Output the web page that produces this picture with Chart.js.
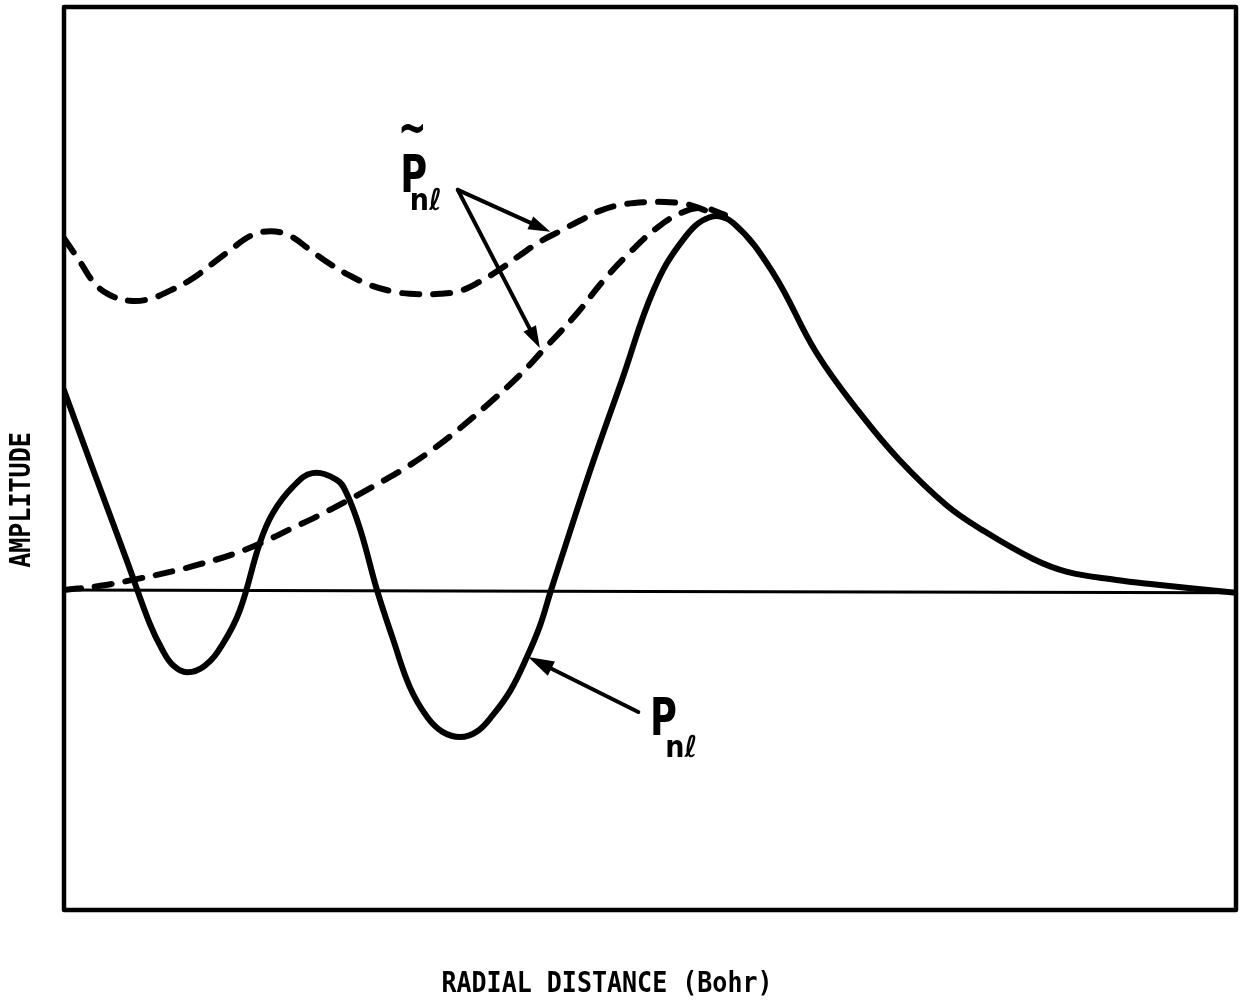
<!DOCTYPE html>
<html>
<head>
<meta charset="utf-8">
<script src="https://cdn.jsdelivr.net/npm/chart.js@4.4.1/dist/chart.umd.min.js"></script>
<style>
  html, body { margin: 0; padding: 0; background: #fff; }
  #wrap { width: 1243px; height: 1007px; }
</style>
</head>
<body>
<div id="wrap"><canvas id="chart" width="1243" height="1007"></canvas></div>
<script>
// Radial wavefunction P_nl (solid) and the two smoothed pseudo-wavefunctions (dashed)
const pnlR   = [0, 0.25, 0.54, 0.73, 0.84, 0.93, 1.05, 1.20, 1.35, 1.50, 1.67, 1.78, 1.95, 2.12, 2.33, 2.41, 2.53, 2.67,
                2.81, 2.95, 3.10, 3.23, 3.38, 3.52, 3.66, 3.81, 3.95, 4.06, 4.15, 4.23, 4.49, 4.76, 5.03, 5.28, 5.51,
                5.71, 6.05, 6.42, 6.79, 7.13, 7.53, 7.84, 8.27, 8.56, 8.98, 9.27, 10];
const pnlAmp = [0.344, 0.207, 0.050, -0.055, -0.101, -0.127, -0.139, -0.128, -0.092, -0.033, 0.082, 0.133, 0.178, 0.202,
                0.190, 0.168, 0.104, 0.002, -0.084, -0.164, -0.216, -0.241, -0.250, -0.241, -0.212, -0.170, -0.113,
                -0.060, -0.002, 0.048, 0.207, 0.361, 0.515, 0.601, 0.640, 0.630, 0.545, 0.408, 0.305, 0.224, 0.147,
                0.104, 0.055, 0.033, 0.019, 0.012, -0.003];

const upperR   = [0, 0.14, 0.26, 0.39, 0.56, 0.73, 0.90, 1.08, 1.25, 1.42, 1.59, 1.76, 1.93, 2.10, 2.27, 2.44, 2.61,
                  2.78, 2.95, 3.21, 3.38, 3.55, 3.72, 3.89, 4.06, 4.23, 4.40, 4.57, 4.74, 4.96, 5.13, 5.30, 5.47, 5.64];
const upperAmp = [0.604, 0.563, 0.527, 0.507, 0.497, 0.500, 0.514, 0.533, 0.558, 0.584, 0.608, 0.616, 0.608, 0.584,
                  0.560, 0.540, 0.524, 0.514, 0.509, 0.509, 0.514, 0.530, 0.551, 0.575, 0.598, 0.616, 0.634, 0.651,
                  0.661, 0.666, 0.666, 0.663, 0.652, 0.639];

const lowerR   = [0, 0.31, 0.63, 0.93, 1.16, 1.44, 1.70, 1.95, 2.18, 2.41, 2.70, 2.93, 3.17, 3.38, 3.63, 3.89, 4.09,
                  4.38, 4.60, 4.83, 5.06, 5.26, 5.45, 5.64];
const lowerAmp = [0.002, 0.009, 0.021, 0.034, 0.046, 0.063, 0.084, 0.108, 0.130, 0.154, 0.186, 0.213, 0.246, 0.279,
                  0.322, 0.370, 0.413, 0.476, 0.531, 0.580, 0.622, 0.647, 0.656, 0.644];

const baseR   = [0, 10];
const baseAmp = [0.002, -0.003];

const rMin = 0, rMax = 10;
const ampMin = -0.546, ampMax = 1.0;

const xTitle = 'RADIAL DISTANCE (Bohr)';
const yTitle = 'AMPLITUDE';

// Annotation arrows (tail -> tip) and handwritten labels, in data units
const arrowTails = [[3.36, 0.687], [3.36, 0.687], [4.90, -0.207]];
const arrowTips  = [[4.15, 0.615], [4.06, 0.416], [3.96, -0.113]];
const tildeLabel = { text: 'P', tilde: true, sub: 'n\u2113', at: [2.87, 0.683], subAt: [2.95, 0.652] };
const plainLabel = { text: 'P', tilde: false, sub: 'n\u2113', at: [5.00, -0.247], subAt: [5.13, -0.284] };

const pts = (xs, ys) => xs.map((x, i) => ({ x, y: ys[i] }));

function drawArrow(ctx, x1, y1, x2, y2, len, half) {
  const a = Math.atan2(y2 - y1, x2 - x1);
  ctx.beginPath();
  ctx.moveTo(x1, y1);
  ctx.lineTo(x2 - Math.cos(a) * len * 0.6, y2 - Math.sin(a) * len * 0.6);
  ctx.stroke();
  ctx.beginPath();
  ctx.moveTo(x2, y2);
  ctx.lineTo(x2 - Math.cos(a) * len - Math.sin(a) * half, y2 - Math.sin(a) * len + Math.cos(a) * half);
  ctx.lineTo(x2 - Math.cos(a) * len + Math.sin(a) * half, y2 - Math.sin(a) * len - Math.cos(a) * half);
  ctx.closePath();
  ctx.fill();
}

function drawLabel(ctx, xs, ys, lab) {
  const px = xs.getPixelForValue(lab.at[0]), py = ys.getPixelForValue(lab.at[1]);
  ctx.save();
  ctx.translate(px, py);
  ctx.scale(0.72, 1);
  ctx.font = 'bold 51px "DejaVu Sans"';
  ctx.fillText(lab.text, 0, 0);
  ctx.restore();
  if (lab.tilde) {
    ctx.save();
    ctx.translate(px + 12, py - 48);
    ctx.scale(0.9, 1.3);
    ctx.font = 'bold 38px "DejaVu Sans"';
    ctx.textAlign = 'center';
    ctx.fillText('~', 0, 0);
    ctx.restore();
  }
  const sx = xs.getPixelForValue(lab.subAt[0]), sy = ys.getPixelForValue(lab.subAt[1]);
  ctx.save();
  ctx.translate(sx, sy);
  ctx.scale(0.9, 1);
  ctx.font = 'bold 30px "DejaVu Sans"';
  ctx.fillText(lab.sub, 0, 0);
  ctx.restore();
}

const notes = {
  id: 'notes',
  afterDatasetsDraw(chart) {
    const { ctx, chartArea: a, scales: { x, y } } = chart;
    ctx.save();
    ctx.strokeStyle = '#000';
    ctx.fillStyle = '#000';
    ctx.lineJoin = 'round';
    ctx.lineCap = 'round';

    // plot frame
    ctx.lineWidth = 4.5;
    ctx.strokeRect(a.left, a.top, a.right - a.left, a.bottom - a.top);

    // arrows
    ctx.lineWidth = 4;
    arrowTails.forEach((t, i) => {
      const tip = arrowTips[i];
      const big = i === 2;
      drawArrow(ctx, x.getPixelForValue(t[0]), y.getPixelForValue(t[1]),
                x.getPixelForValue(tip[0]), y.getPixelForValue(tip[1]), big ? 26 : 22, big ? 8 : 7);
    });

    // curve labels
    drawLabel(ctx, x, y, tildeLabel);
    drawLabel(ctx, x, y, plainLabel);

    // axis titles
    ctx.font = 'bold 25px "DejaVu Sans Mono"';
    ctx.textAlign = 'center';
    ctx.textBaseline = 'middle';
    ctx.save();
    ctx.translate(607, 985);
    ctx.scale(1, 1.12);
    ctx.fillText(xTitle, 0, 0);
    ctx.restore();
    ctx.save();
    ctx.translate(23, 500);
    ctx.rotate(-Math.PI / 2);
    ctx.scale(1, 1.12);
    ctx.fillText(yTitle, 0, 0);
    ctx.restore();
    ctx.restore();
  }
};

const common = { pointRadius: 0, borderColor: '#000', fill: false, tension: 0.4,
                 borderCapStyle: 'round', borderJoinStyle: 'round' };

new Chart(document.getElementById('chart'), {
  type: 'line',
  data: {
    datasets: [
      { ...common, label: 'zero', data: pts(baseR, baseAmp), borderWidth: 3, borderCapStyle: 'butt' },
      { ...common, label: 'P_nl', data: pts(pnlR, pnlAmp), borderWidth: 6 },
      { ...common, label: 'P~_nl (upper)', data: pts(upperR, upperAmp), borderWidth: 6, borderDash: [17, 14] },
      { ...common, label: 'P~_nl (lower)', data: pts(lowerR, lowerAmp), borderWidth: 6, borderDash: [17, 14] }
    ]
  },
  options: {
    responsive: false,
    animation: false,
    devicePixelRatio: 1,
    layout: { padding: { left: 64, top: 7, right: 7, bottom: 97 } },
    plugins: { legend: { display: false }, tooltip: { enabled: false } },
    scales: {
      x: { type: 'linear', min: rMin, max: rMax, display: false },
      y: { type: 'linear', min: ampMin, max: ampMax, display: false }
    }
  },
  plugins: [notes]
});
</script>
</body>
</html>
